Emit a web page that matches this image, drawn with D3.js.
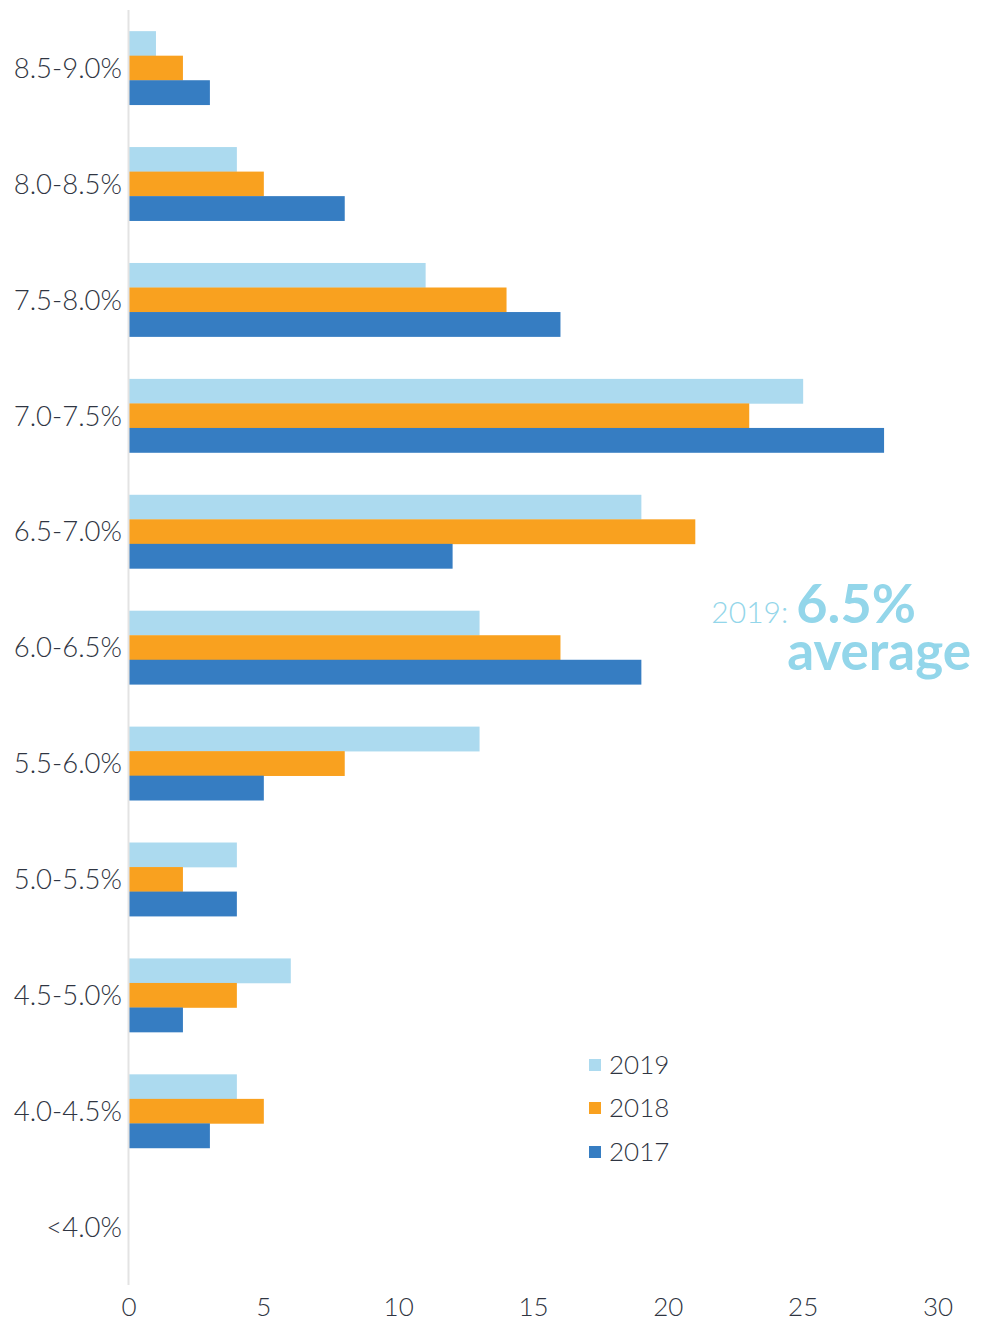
<!DOCTYPE html>
<html><head><meta charset="utf-8">
<script src="https://cdn.jsdelivr.net/npm/d3@7"></script>
<style>body{margin:0;background:#fff}svg{display:block}</style>
</head><body>
<svg id="c" width="1000" height="1338"></svg>
<script>
const categories = ["8.5-9.0%","8.0-8.5%","7.5-8.0%","7.0-7.5%","6.5-7.0%","6.0-6.5%","5.5-6.0%","5.0-5.5%","4.5-5.0%","4.0-4.5%","<4.0%"];
const series = ["2019","2018","2017"];
const values2019 = [1,4,11,25,19,13,13,4,6,4,0];
const values2018 = [2,5,14,23,21,16,8,2,4,5,0];
const values2017 = [3,8,16,28,12,19,5,4,2,3,0];
const xTicks = [0,5,10,15,20,25,30];
const colors = {"2019":"#acdaef","2018":"#f9a11f","2017":"#367dc2"};
const textColor = "#2f3542";
const annoColor = "#93d6ea";

const svg = d3.select("#c");
const font = "Lato, 'Open Sans', sans-serif";
const x = d3.scaleLinear().domain([0,30]).range([129,938]);
const y = d3.scaleBand().domain(categories).range([10,1285]).paddingInner(0.365).paddingOuter(0.1825);
const ySub = d3.scaleBand().domain(series).range([0,y.bandwidth()]);
const data = {"2019":values2019,"2018":values2018,"2017":values2017};

// bars
const g = svg.append("g");
categories.forEach((c,i)=>{
  series.forEach(s=>{
    const v = data[s][i];
    if(v>0) g.append("rect")
      .attr("x",x(0)).attr("y",y(c)+ySub(s))
      .attr("width",x(v)-x(0)).attr("height",ySub.bandwidth()+0.3)
      .attr("fill",colors[s]);
  });
});

// axis line
svg.append("line").attr("x1",128.5).attr("x2",128.5).attr("y1",10).attr("y2",1285)
  .attr("stroke","#e3e3e3").attr("stroke-width",2);

// y labels
svg.append("g").selectAll("text").data(categories).join("text")
  .attr("x",122).attr("y",d=>y(d)+y.bandwidth()/2)
  .attr("dy","0.36em").attr("text-anchor","end")
  .attr("font-family",font).attr("font-size",27.5).attr("font-weight",300)
  .attr("fill",textColor).text(d=>d);

// x tick labels
svg.append("g").selectAll("text").data(xTicks).join("text")
  .attr("x",d=>x(d)).attr("y",1316).attr("text-anchor","middle")
  .attr("font-family",font).attr("font-size",26).attr("font-weight",300)
  .attr("fill",textColor).text(d=>d);

// annotation
const a1 = svg.append("text").attr("x",916).attr("y",623).attr("text-anchor","end")
  .attr("font-family",font).attr("fill",annoColor);
a1.append("tspan").attr("font-size",30).attr("font-weight",300).text("2019: ");
a1.append("tspan").attr("font-size",54).attr("font-weight",700).text("6.5%");
svg.append("text").attr("x",971).attr("y",670).attr("text-anchor","end")
  .attr("font-family",font).attr("fill",annoColor).attr("font-size",53).attr("font-weight",700)
  .text("average");

// legend
const leg = svg.append("g");
const legY = [1065,1108,1152];
series.forEach((s,i)=>{
  leg.append("rect").attr("x",589).attr("y",legY[i]-6).attr("width",12).attr("height",12).attr("fill",colors[s]);
  leg.append("text").attr("x",609).attr("y",legY[i]).attr("dy","0.35em")
    .attr("font-family",font).attr("font-size",26).attr("font-weight",300)
    .attr("fill",textColor).text(s);
});
</script>
</body></html>
